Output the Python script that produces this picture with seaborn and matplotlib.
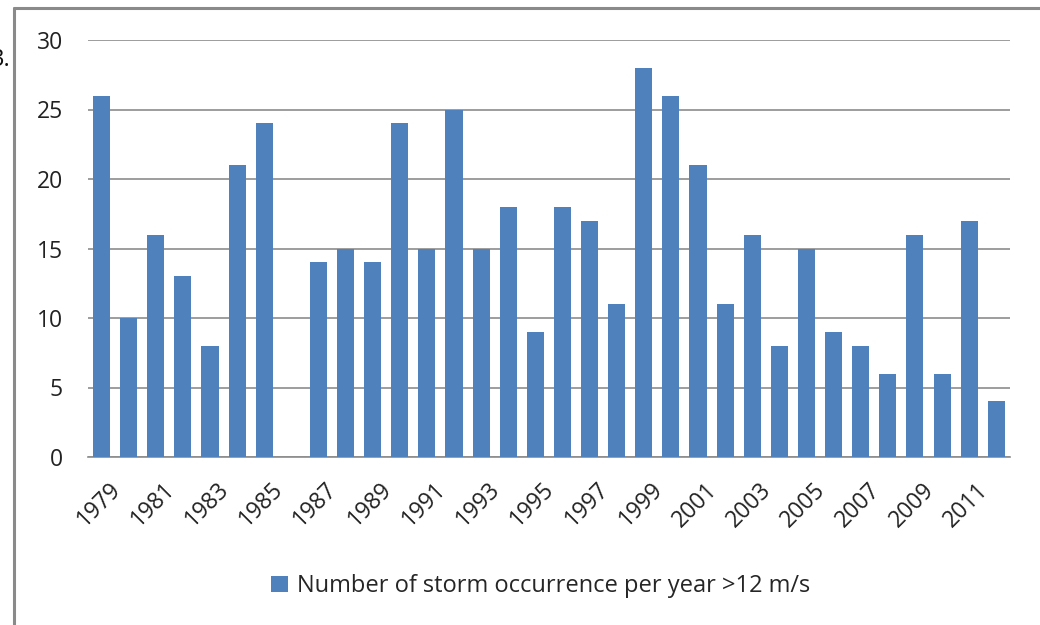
import matplotlib
matplotlib.use("Agg")
import matplotlib.pyplot as plt
import matplotlib.transforms as mtransforms
import seaborn as sns
import pandas as pd
from matplotlib.lines import Line2D
from matplotlib.patches import Patch

years = list(range(1979, 2013))
storms = [26, 10, 16, 13, 8, 21, 24, 0, 14, 15, 14, 24, 15, 25, 15, 18, 9, 18,
          17, 11, 28, 26, 21, 11, 16, 8, 15, 9, 8, 6, 16, 6, 17, 4]
series_name = "Number of storm occurrence per year >12 m/s"
yticks = [0, 5, 10, 15, 20, 25, 30]

sns.set_theme(style="white")
plt.rcParams['font.family'] = ['Open Sans', 'DejaVu Sans']

df = pd.DataFrame({"year": [str(y) for y in years], "storms": storms})

fig = plt.figure(figsize=(10.4, 6.25), dpi=100)
ax = fig.add_axes([0.0846, 0.2688, 0.8864, 0.6672])
color = "#4F81BD"
sns.barplot(data=df, x="year", y="storms", color=color, saturation=1,
            width=0.63, ax=ax, zorder=3, linewidth=0, edgecolor="none")

ax.set_ylim(0, 30)
ax.set_xlim(-0.5, len(years) - 0.5)
ax.set_yticks(yticks)
ax.set_yticklabels([str(t) for t in yticks], fontsize=16.5, color="#222222")
ax.yaxis.grid(True, color="#8c8c8c", linewidth=1.2, zorder=0)
ax.set_axisbelow(True)
for s in ["left", "right", "top"]:
    ax.spines[s].set_visible(False)
ax.spines["bottom"].set_color("#8c8c8c")
ax.spines["bottom"].set_linewidth(1.2)
ax.tick_params(axis="y", length=0, pad=18)
ax.tick_params(axis="x", length=0, pad=15)

labels = [str(y) if (y - 1979) % 2 == 0 else "" for y in years]
ax.set_xticks(range(len(years)))
ax.set_xticklabels(labels, rotation=45, ha="right", rotation_mode="anchor",
                   fontsize=16.5, color="#222222")
offset = mtransforms.ScaledTranslation(7 / 100, 0, fig.dpi_scale_trans)
for lbl in ax.get_xticklabels():
    lbl.set_transform(lbl.get_transform() + offset)
ax.set_xlabel("")
ax.set_ylabel("")

handle = Patch(facecolor=color, edgecolor="none")
fig.legend([handle], [series_name], loc="center", bbox_to_anchor=(0.52, 0.062),
           frameon=False, fontsize=17, handlelength=0.7, handleheight=0.7,
           handletextpad=0.4)

# frame lines (left and top) of the original picture
fig.add_artist(Line2D([14 / 1040, 14 / 1040], [0, 1 - 8 / 625], transform=fig.transFigure,
                      color="#8a8a8a", linewidth=2.2))
fig.add_artist(Line2D([14 / 1040, 1], [1 - 8 / 625, 1 - 8 / 625], transform=fig.transFigure,
                      color="#8a8a8a", linewidth=2.2))
fig.text(11 / 1040, 1 - 66 / 625, "3.", ha="right", va="baseline", fontsize=17, color="#111111")

fig.savefig("out.png", dpi=100, facecolor="white")
